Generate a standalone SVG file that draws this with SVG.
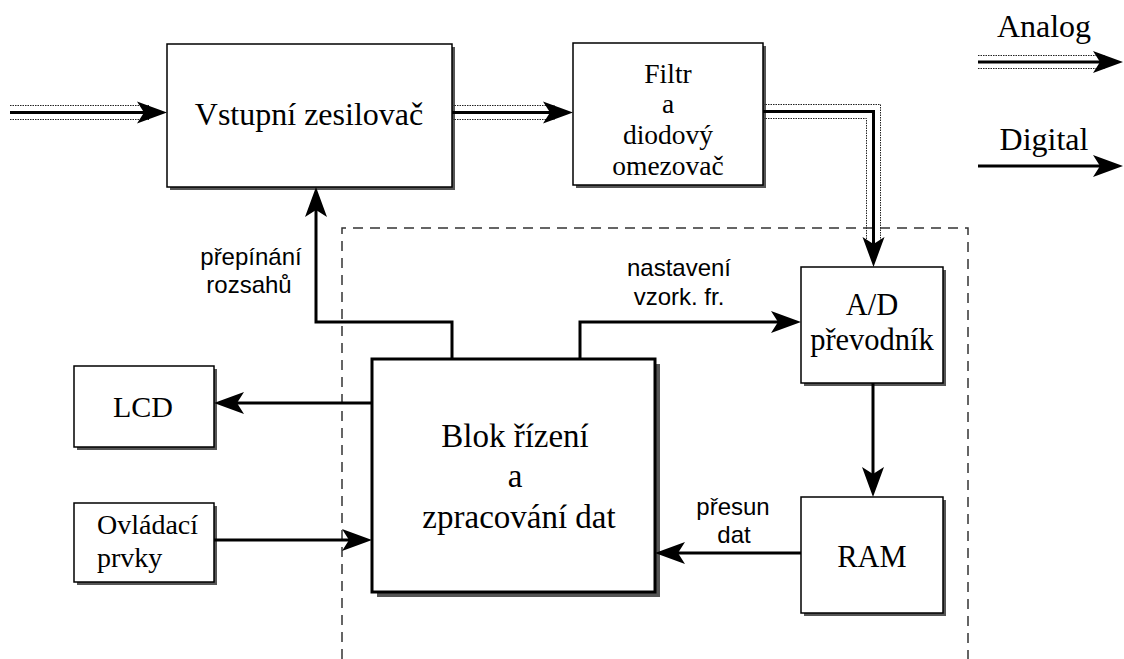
<svg xmlns="http://www.w3.org/2000/svg" width="1124" height="659" viewBox="0 0 1124 659">
<style>
.box{fill:#fff;stroke:#000;stroke-width:1.5}
.shadow{fill:#555}
.serif{font-family:"Liberation Serif","Times New Roman",serif;fill:#000}
.sans{font-family:"Liberation Sans",Arial,sans-serif;fill:#000;font-size:24px}
.dig{fill:none;stroke:#000;stroke-width:3}
.ana{fill:none;stroke:#000;stroke-width:3}
.dot{fill:none;stroke:#222;stroke-width:1;stroke-dasharray:1.5 1}
.frame{fill:none;stroke:#333;stroke-width:1.5;stroke-dasharray:10 7}
</style>
<defs>
<marker id="ah" markerUnits="userSpaceOnUse" viewBox="-30 -12 31 24" refX="-15" refY="0" markerWidth="31" markerHeight="24" orient="auto">
<path d="M0,0 L-30,-11 L-23,0 L-30,11 Z" fill="#000"/>
</marker>
</defs>
<rect width="1124" height="659" fill="#fff"/>
<path class="frame" d="M342,659 V228 H968 V659"/>
<g id="vstupni">
<rect class="shadow" x="170" y="47" width="285" height="143"/>
<rect class="box" x="167" y="44" width="285" height="143"/>
<text class="serif" x="309" y="125" font-size="32" text-anchor="middle">Vstupní zesilovač</text>
</g>
<g id="filtr">
<rect class="shadow" x="576" y="46" width="190" height="142"/>
<rect class="box" x="573" y="43" width="190" height="142"/>
<text class="serif" font-size="27.5" text-anchor="middle"><tspan x="668" y="83">Filtr</tspan><tspan x="668" y="113">a</tspan><tspan x="668" y="144">diodový</tspan><tspan x="668" y="175">omezovač</tspan></text>
</g>
<g id="adc">
<rect class="shadow" x="804" y="270" width="142" height="116"/>
<rect class="box" x="801" y="267" width="142" height="116"/>
<text class="serif" font-size="30.5" text-anchor="middle"><tspan x="872" y="315">A/D</tspan><tspan x="872" y="350">převodník</tspan></text>
</g>
<g id="ram">
<rect class="shadow" x="804" y="500" width="142" height="116"/>
<rect class="box" x="801" y="497" width="142" height="116"/>
<text class="serif" font-size="30.5" text-anchor="middle" x="872" y="567">RAM</text>
</g>
<g id="lcd">
<rect class="shadow" x="77" y="369" width="140" height="81"/>
<rect class="box" x="74" y="366" width="140" height="81"/>
<text class="serif" font-size="30" text-anchor="middle" x="143" y="417">LCD</text>
</g>
<g id="ovladaci">
<rect class="shadow" x="77" y="506" width="140" height="79"/>
<rect class="box" x="74" y="503" width="140" height="79"/>
<text class="serif" font-size="28"><tspan x="97" y="534">Ovládací</tspan><tspan x="97" y="567">prvky</tspan></text>
</g>
<g id="blok">
<rect class="shadow" x="377" y="364" width="283" height="233"/>
<rect x="372" y="359" width="283" height="233" fill="#fff" stroke="#000" stroke-width="3"/>
<text class="serif" font-size="33" text-anchor="middle"><tspan x="515" y="447">Blok řízení</tspan><tspan x="515" y="487">a</tspan><tspan x="519" y="528">zpracování dat</tspan></text>
</g>
<g id="connectors">
<path class="dot" d="M10,105.5 H150"/>
<path class="dot" d="M10,119.5 H150"/>
<path class="ana" d="M10,112.5 H152" marker-end="url(#ah)"/>
<path class="dot" d="M452,105.5 H555"/>
<path class="dot" d="M452,119.5 H555"/>
<path class="ana" d="M452,112.5 H558" marker-end="url(#ah)"/>
<path class="dot" d="M763,104.5 H880.5 V245"/>
<path class="dot" d="M763,118.5 H866.5 V245"/>
<path class="ana" d="M763,111.5 H873.5 V252" marker-end="url(#ah)"/>
<path class="dig" d="M452,359 V322 H316 V202" marker-end="url(#ah)"/>
<path class="dig" d="M580,359 V322 H786" marker-end="url(#ah)"/>
<path class="dig" d="M873,383 V482" marker-end="url(#ah)"/>
<path class="dig" d="M801,553 H670" marker-end="url(#ah)"/>
<path class="dig" d="M372,403 H229" marker-end="url(#ah)"/>
<path class="dig" d="M214,540 H357" marker-end="url(#ah)"/>
<path class="dot" d="M978,55.5 H1105"/>
<path class="dot" d="M978,68.5 H1105"/>
<path class="ana" d="M978,62 H1108" marker-end="url(#ah)"/>
<path class="dig" d="M978,166 H1108" marker-end="url(#ah)"/>
</g>
<g id="labels">
<text class="sans" text-anchor="middle"><tspan x="251" y="265">přepínání</tspan><tspan x="249" y="293">rozsahů</tspan></text>
<text class="sans" text-anchor="middle"><tspan x="679" y="276">nastavení</tspan><tspan x="679" y="305">vzork. fr.</tspan></text>
<text class="sans" text-anchor="middle"><tspan x="733" y="515">přesun</tspan><tspan x="734" y="543">dat</tspan></text>
<text class="serif" font-size="32" text-anchor="middle" x="1044" y="37">Analog</text>
<text class="serif" font-size="32" text-anchor="middle" x="1044" y="150">Digital</text>
</g>
</svg>
